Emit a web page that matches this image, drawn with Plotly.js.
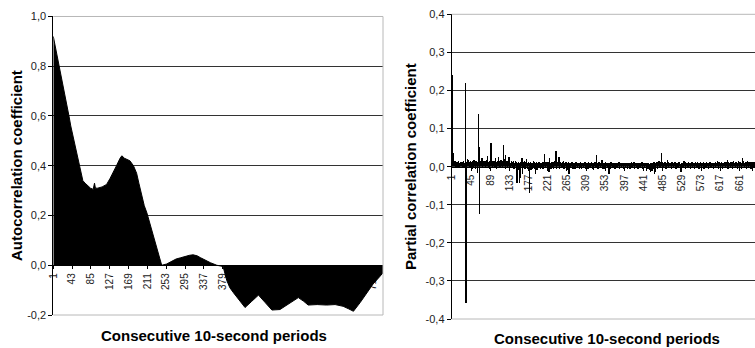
<!DOCTYPE html>
<html>
<head>
<meta charset="utf-8">
<script src="https://cdn.plot.ly/plotly-3.0.1.min.js"></script>
<style>html,body{margin:0;padding:0;background:#fff;}#chart{width:755px;height:348px;}</style>
</head>
<body>
<div id="chart"></div>
<script>
// ---- Autocorrelation (left panel): lag and coefficient ----
const acfLag = [1,5,10,15,20,25,31,33,36,40,45,50,55,60,64,67,72,78,84,90,93,95,100,110,120,128,133,142,150,154,160,172,180,187,192,198,204,210,218,228,237,243,254,265,275,285,295,305,313,322,330,342,352,366,380,388,395,403,416,429,444,459,474,489,507,522,535,548,560,570,590,611,630,648,660,671,686,701,715,730,737];
const acfValue = [0.92,0.885,0.84,0.79,0.75,0.70,0.645,0.64,0.60,0.56,0.52,0.48,0.44,0.40,0.37,0.34,0.33,0.32,0.31,0.305,0.33,0.31,0.31,0.315,0.325,0.35,0.37,0.40,0.43,0.44,0.43,0.42,0.40,0.37,0.33,0.28,0.24,0.21,0.16,0.10,0.04,0.00,0.005,0.015,0.025,0.03,0.036,0.04,0.042,0.038,0.03,0.018,0.01,0.0,-0.005,-0.06,-0.09,-0.11,-0.14,-0.17,-0.145,-0.12,-0.15,-0.18,-0.178,-0.16,-0.145,-0.13,-0.145,-0.16,-0.158,-0.16,-0.158,-0.165,-0.175,-0.185,-0.15,-0.11,-0.075,-0.045,-0.03];
const acfTickVals = [1,43,85,127,169,211,253,295,337,379,421,463,505,547,589,631,673,715];
const acfTickText = ["1","43","85","127","169","211","253","295","337","379","421","463","505","547","589","631","673","715"];
const acfYTickVals = [-0.2,0,0.2,0.4,0.6,0.8,1.0];
const acfYTickText = ["-0,2","0,0","0,2","0,4","0,6","0,8","1,0"];

// ---- Partial autocorrelation (right panel): one value per lag, lags 1..700 ----
const pacfValue = [
.241,.090,.036,.030,.012,.008,.014,.006,.010,.004,.012,.009,-.004,.011,.007,.013,.005,-.003,.010,.008,.012,.006,.009,-.005,.011,
.007,.013,.004,.010,.009,.006,.218,-.358,.012,.008,.020,.015,.018,.006,.012,-.004,.009,.014,.005,.011,-.006,.008,.013,.004,.010,
.016,.007,.012,-.008,.009,.014,.006,.011,-.018,.008,.138,.012,.050,-.125,.010,.007,.015,.006,.021,.009,-.005,.012,.008,.014,.006,
.010,-.004,.013,.007,.011,.016,.028,.009,.005,.012,-.007,.010,.014,.006,.062,.018,.008,.011,-.005,.013,.007,.010,.015,.004,.021,
.009,.012,-.006,.008,.014,.006,.025,.011,.007,.013,-.004,.010,.016,.008,.012,.005,.009,.014,.055,.020,.008,.012,.030,-.006,.010,
.007,.013,.005,.011,.009,.025,.006,.012,-.005,.010,.008,.014,.006,.011,.004,.009,.013,-.008,.007,.010,.015,.006,.012,-.012,-.045,
.008,-.010,.011,.006,-.045,.009,-.030,.012,.007,.010,.022,-.020,.008,.011,.005,.009,.013,-.006,.008,.012,.020,.006,.010,-.007,.009,
.011,.006,-.012,-.070,.008,.012,-.010,.007,.010,-.008,.009,.005,.015,.011,.006,-.006,-.020,.008,.012,.005,-.009,.010,.007,.011,-.005,
.008,.012,.006,-.007,.010,.005,.009,.011,-.006,.007,.012,.008,.032,.009,-.005,.011,.006,.008,.010,-.007,.012,.007,-.015,.009,.022,
.006,.010,-.006,.008,.012,.005,.009,-.008,.011,.007,.010,.013,.006,.040,.009,-.006,.011,.007,.010,.008,.025,.006,-.007,.010,.012,
.007,.009,-.005,.011,.006,.015,.008,-.007,.010,.006,.009,.012,-.006,.008,.010,-.009,.007,.011,-.020,.008,.006,.010,-.005,.009,.007,
.011,.006,-.006,.008,.010,.005,.009,-.007,.011,.006,.008,.012,.010,-.005,.007,.009,.006,-.008,.010,.007,.011,.005,-.006,.009,.008,
.006,.010,-.005,.007,.009,.012,.006,-.007,.008,.010,.005,.009,-.006,.011,.007,.008,-.005,.010,.006,.009,.012,.007,-.006,.008,.010,
-.010,.006,.009,.011,.007,-.005,.030,.010,.006,.009,-.006,.008,.011,.007,.010,-.005,.009,.006,.012,.018,.007,-.006,.010,.008,.006,
.009,-.007,.011,.006,.008,.010,-.005,.007,.009,.006,-.019,.010,.007,.008,-.006,.011,.006,.009,.007,-.005,.010,.008,.006,.009,-.006,
.007,.010,.006,-.005,.008,.009,.007,.011,.012,-.006,.008,.006,.009,.010,-.005,.007,.008,.006,-.007,.010,.009,.006,.008,-.005,.007,
.010,.006,.008,-.006,.009,.007,.010,.005,-.006,.008,.009,.006,.011,-.005,.007,.008,.010,.012,-.006,.007,.009,.006,.008,-.005,.010,
.006,.008,-.006,.009,.007,.010,.005,-.005,.008,.006,.009,.011,-.006,.007,.008,.006,-.005,.010,.007,.009,.006,-.012,.008,.010,.006,
-.008,.009,.007,-.010,.006,.008,-.015,.010,.007,-.012,.009,.006,-.008,.011,-.014,-.020,.010,-.015,.007,.012,.008,-.006,.009,.011,.007,
.013,.008,-.005,.010,.012,.035,.009,.011,.007,-.005,.010,.008,.012,.006,.009,.011,-.006,.008,.010,.018,.007,.012,-.005,.009,.006,
.010,.008,.006,-.006,.009,.011,.007,.008,-.005,.010,.006,.009,.012,.007,-.006,.008,.010,.006,.009,-.005,.007,.011,.008,.006,-.006,
-.015,.009,.007,.010,.006,-.005,.008,.014,.009,.007,.011,-.006,.008,.006,.010,.009,-.005,.007,.012,.008,.006,.010,-.006,.009,.007,
.008,.011,-.005,.006,.009,.007,.010,-.006,.008,.012,.006,.009,-.005,.011,.007,.008,.010,-.006,.006,.009,.011,.007,-.005,.008,.010,
.006,.009,.012,-.006,.007,.010,.008,.006,-.005,.011,.009,.007,.010,-.006,.008,.006,.009,.011,.012,-.005,.007,.010,.008,.006,.009,
-.006,.010,.007,.009,.011,-.005,.008,.006,.010,.013,.007,-.006,.009,.011,.008,.006,-.005,.010,.007,.012,.009,-.006,.008,.010,.007,
.011,.009,-.005,.008,.012,.010,.007,.016,-.006,.009,.011,.008,.006,.010,-.005,.012,.009,.007,.011,-.006,.008,.013,.010,.007,.009,
-.005,.011,.008,.012,.009,-.006,.010,.007,.013,.011,-.005,.009,.012,.008,.010,-.006,.022,.011,.009,.013,.007,-.005,.010,.012,.008,
.009,-.006,.011,.013,.008,.010,-.005,.012,.009,.007,.011,-.006,.010,.012,-.012,.009,.011,.008,-.005,.010,.012,.009,.007,.011,.010
];
const pacfLag = pacfValue.map((v, i) => i + 1);
const pacfTickVals = [1,45,89,133,177,221,265,309,353,397,441,485,529,573,617,661,705];
const pacfTickText = ["1","45","89","133","177","221","265","309","353","397","441","485","529","573","617","661","705"];
const pacfYTickVals = [-0.4,-0.3,-0.2,-0.1,0,0.1,0.2,0.3,0.4];
const pacfYTickText = ["-0,4","-0,3","-0,2","-0,1","0,0","0,1","0,2","0,3","0,4"];

const FONT = "Liberation Sans, Arial, sans-serif";
const tickFontY = {family: FONT, size: 11, color: "#222"};
const tickFontX = {family: FONT, size: 10, color: "#222"};
const titleFont = {family: FONT, size: 15, color: "#000", weight: "bold"};

const traces = [
  {
    type: "scatter", mode: "lines", x: acfLag, y: acfValue,
    fill: "tozeroy", fillcolor: "#000", line: {color: "#000", width: 1},
    xaxis: "x", yaxis: "y", hoverinfo: "skip"
  },
  {
    type: "bar", x: pacfLag, y: pacfValue, width: 1,
    marker: {color: "#000", line: {width: 0}},
    xaxis: "x2", yaxis: "y2", hoverinfo: "skip"
  }
];

const L = {x0: 0.0706, x1: 0.5073, y0: 0.0948, y1: 0.9526};
const R = {x0: 0.5983, x1: 1.0, y0: 0.0833, y1: 0.9589};

const borderColor = "#b8b8b8";
function border(xr, yr, sides) {
  const s = [];
  if (sides.includes("t")) s.push({type: "line", xref: xr + " domain", yref: yr + " domain", x0: 0, x1: 1, y0: 1, y1: 1, line: {color: borderColor, width: 1}, layer: "above"});
  if (sides.includes("b")) s.push({type: "line", xref: xr + " domain", yref: yr + " domain", x0: 0, x1: 1, y0: 0, y1: 0, line: {color: borderColor, width: 1}, layer: "above"});
  if (sides.includes("r")) s.push({type: "line", xref: xr + " domain", yref: yr + " domain", x0: 1, x1: 1, y0: 0, y1: 1, line: {color: borderColor, width: 1}, layer: "above"});
  return s;
}

const layout = {
  width: 755, height: 348,
  margin: {l: 0, r: 0, t: 0, b: 0, pad: 0},
  paper_bgcolor: "#fff", plot_bgcolor: "#fff",
  showlegend: false,
  font: {family: FONT, color: "#222"},
  bargap: 0,
  xaxis: {
    domain: [L.x0, L.x1], range: [1, 737], anchor: "free",
    position: L.y0 + (L.y1 - L.y0) * (0.2 / 1.2),
    tickmode: "array", tickvals: acfTickVals, ticktext: acfTickText,
    tickangle: -90, tickfont: tickFontX, ticks: "outside", ticklen: 3, tickcolor: "#000",
    showline: true, linecolor: "#000", linewidth: 1, layer: "below traces",
    showgrid: false, zeroline: false, automargin: false, fixedrange: true
  },
  yaxis: {
    domain: [L.y0, L.y1], range: [-0.2, 1.0], anchor: "x",
    tickmode: "array", tickvals: acfYTickVals, ticktext: acfYTickText,
    tickfont: tickFontY, ticks: "outside", ticklen: 4, tickcolor: "#000",
    showline: true, linecolor: "#000", linewidth: 1,
    showgrid: true, gridcolor: "#333", gridwidth: 1,
    zeroline: false, automargin: false, fixedrange: true
  },
  xaxis2: {
    domain: [R.x0, R.x1], range: [0.5, 697], anchor: "free",
    position: R.y0 + (R.y1 - R.y0) * 0.5,
    tickmode: "array", tickvals: pacfTickVals, ticktext: pacfTickText,
    tickangle: -90, tickfont: tickFontX, ticks: "outside", ticklen: 3, tickcolor: "#000",
    showline: true, linecolor: "#000", linewidth: 1, layer: "below traces",
    showgrid: false, zeroline: false, automargin: false, fixedrange: true
  },
  yaxis2: {
    domain: [R.y0, R.y1], range: [-0.4, 0.4], anchor: "x2",
    tickmode: "array", tickvals: pacfYTickVals, ticktext: pacfYTickText,
    tickfont: tickFontY, ticks: "outside", ticklen: 4, tickcolor: "#000",
    showline: true, linecolor: "#000", linewidth: 1,
    showgrid: true, gridcolor: "#333", gridwidth: 1,
    zeroline: false, automargin: false, fixedrange: true
  },
  shapes: [].concat(border("x", "y", "tbr"), border("x2", "y2", "tb")),
  annotations: [
    {text: "Autocorrelation coefficient", xref: "paper", yref: "paper", x: 16 / 755, y: 1 - 166 / 348,
     textangle: -90, showarrow: false, font: titleFont, xanchor: "center", yanchor: "middle"},
    {text: "Partial correlation coefficient", xref: "paper", yref: "paper", x: 411 / 755, y: 1 - 167 / 348,
     textangle: -90, showarrow: false, font: titleFont, xanchor: "center", yanchor: "middle"},
    {text: "Consecutive 10-second periods", xref: "paper", yref: "paper", x: 214 / 755, y: 1 - 335 / 348,
     showarrow: false, font: titleFont, xanchor: "center", yanchor: "middle"},
    {text: "Consecutive 10-second periods", xref: "paper", yref: "paper", x: 607 / 755, y: 1 - 338 / 348,
     showarrow: false, font: titleFont, xanchor: "center", yanchor: "middle"}
  ]
};

Plotly.newPlot("chart", traces, layout, {displayModeBar: false, responsive: false});
</script>
</body>
</html>
